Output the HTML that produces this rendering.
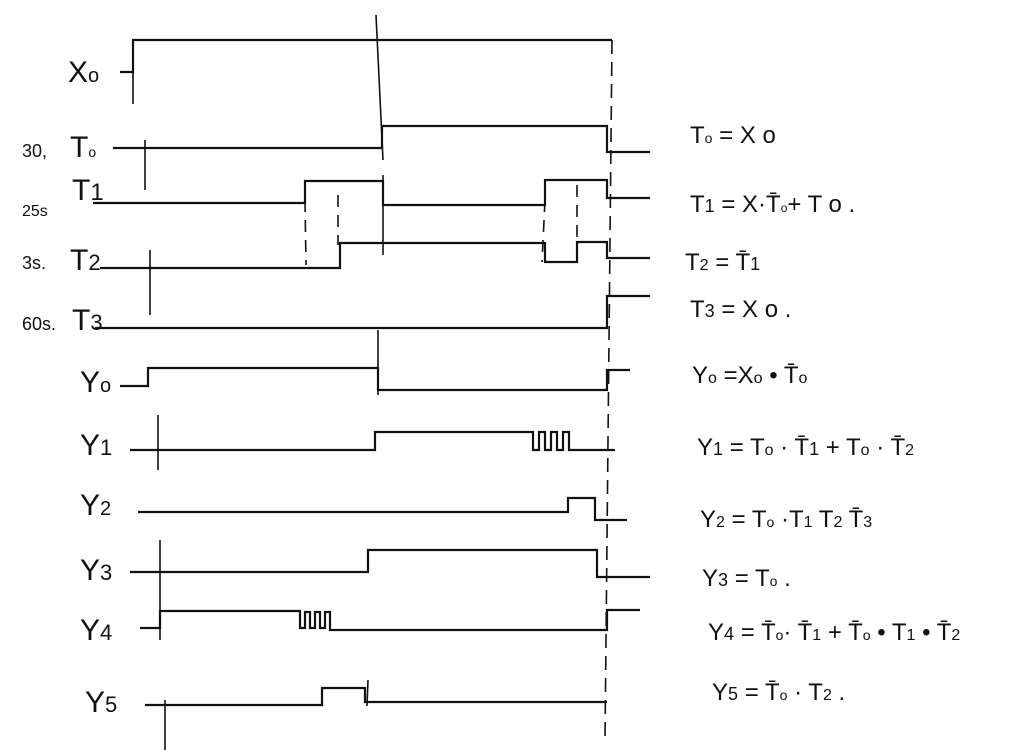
<!DOCTYPE html>
<html><head><meta charset="utf-8"><style>
body{margin:0;background:#fff}
svg{display:block}
text{font-family:"Liberation Sans",sans-serif;fill:#111}
</style></head><body>
<svg id="chart" width="1024" height="750" viewBox="0 0 1024 750">
<g id="guides" stroke="#111" stroke-width="1.6" fill="none">
<line x1="133" y1="40" x2="133" y2="104"/>
<line x1="376" y1="15" x2="383" y2="160"/>
<line x1="145" y1="140" x2="145" y2="190"/>
<line x1="150" y1="250" x2="150" y2="315"/>
<line x1="378" y1="330" x2="378" y2="395"/>
<line x1="158" y1="415" x2="158" y2="470"/>
<line x1="160" y1="540" x2="160" y2="640"/>
<line x1="165" y1="700" x2="165" y2="750"/>
<line x1="368" y1="680" x2="367" y2="706"/>
<line x1="612" y1="40" x2="605" y2="740" stroke-dasharray="14,8"/>
<line x1="305" y1="200" x2="306" y2="265" stroke-dasharray="12,8"/>
<line x1="338" y1="195" x2="338" y2="245" stroke-dasharray="12,8"/>
<line x1="545" y1="200" x2="542" y2="262" stroke-dasharray="12,8"/>
<line x1="577" y1="185" x2="577" y2="262" stroke-dasharray="12,8"/>
<line x1="383" y1="175" x2="383" y2="255"/>
</g>
<g id="waves" stroke="#111" stroke-width="2.2" fill="none"></g>
<g font-size="30">
<text x="68" y="82">X<tspan font-size="20">o</tspan></text>
<text x="22" y="157" font-size="18">30,</text>
<text x="70" y="157">T<tspan font-size="14">o</tspan></text>
<text x="22" y="216" font-size="16">25s</text>
<text x="72" y="200">T<tspan font-size="24">1</tspan></text>
<text x="22" y="269" font-size="18">3s.</text>
<text x="70" y="270">T<tspan font-size="22">2</tspan></text>
<text x="22" y="330" font-size="18">60s.</text>
<text x="72" y="330">T<tspan font-size="22">3</tspan></text>
<text x="80" y="392">Y<tspan font-size="20">o</tspan></text>
<text x="80" y="455">Y<tspan font-size="22">1</tspan></text>
<text x="80" y="515">Y<tspan font-size="20">2</tspan></text>
<text x="80" y="580">Y<tspan font-size="22">3</tspan></text>
<text x="80" y="640">Y<tspan font-size="22">4</tspan></text>
<text x="85" y="712">Y<tspan font-size="22">5</tspan></text>
</g>
<g font-size="24">
<text x="690" y="143">T<tspan font-size="14">o</tspan> = X o</text>
<text x="690" y="212">T<tspan font-size="18">1</tspan> = X·T̄<tspan font-size="12">o</tspan>+ T o .</text>
<text x="685" y="270">T<tspan font-size="16">2</tspan> = T̄<tspan font-size="18">1</tspan></text>
<text x="690" y="317">T<tspan font-size="18">3</tspan> = X o .</text>
<text x="692" y="383">Y<tspan font-size="16">o</tspan> =X<tspan font-size="16">o</tspan> • T̄<tspan font-size="16">o</tspan></text>
<text x="697" y="455">Y<tspan font-size="18">1</tspan> = T<tspan font-size="16">o</tspan> · T̄<tspan font-size="18">1</tspan> + T<tspan font-size="16">o</tspan> · T̄<tspan font-size="16">2</tspan></text>
<text x="700" y="527">Y<tspan font-size="16">2</tspan> = T<tspan font-size="14">o</tspan> ·T<tspan font-size="16">1</tspan> T<tspan font-size="16">2</tspan> T̄<tspan font-size="16">3</tspan></text>
<text x="702" y="586">Y<tspan font-size="18">3</tspan> = T<tspan font-size="14">o</tspan> .</text>
<text x="708" y="640">Y<tspan font-size="18">4</tspan> = T̄<tspan font-size="14">o</tspan>· T̄<tspan font-size="16">1</tspan> + T̄<tspan font-size="14">o</tspan> • T<tspan font-size="16">1</tspan> • T̄<tspan font-size="16">2</tspan></text>
<text x="712" y="700">Y<tspan font-size="18">5</tspan> = T̄<tspan font-size="14">o</tspan> · T<tspan font-size="16">2</tspan> .</text>
</g>
</svg>
<script>
// each waveform: names, and segments [xStart, xEnd, y]
const signalNames = ['x0','t0','t1','t2','t3','y0','y1','y2','y3','y4','y5'];
const x0Segs = [[120,133,72],[133,612,40]];
const t0Segs = [[113,382,148],[382,607,126],[607,650,152]];
const t1Segs = [[93,305,203],[305,383,181],[383,545,205],[545,607,180],[607,650,198]];
const t2Segs = [[100,340,268],[340,545,243],[545,577,262],[577,607,242],[607,650,258]];
const t3Segs = [[95,607,328],[607,650,296]];
const y0Segs = [[120,148,386],[148,378,368],[378,607,390],[607,630,370]];
const y1Segs = [[130,375,450],[375,533,432],[533,539,450],[539,545,432],[545,551,450],[551,557,432],[557,563,450],[563,569,432],[569,573,450],[573,615,450]];
const y2Segs = [[138,568,512],[568,595,498],[595,627,520]];
const y3Segs = [[130,368,572],[368,597,550],[597,650,577]];
const y4Segs = [[140,160,628],[160,300,611],[300,305,628],[305,310,612],[310,315,628],[315,320,612],[320,325,628],[325,330,612],[330,607,630],[607,640,610]];
const y5Segs = [[145,322,705],[322,365,688],[365,607,702]];
const allSegs = [x0Segs,t0Segs,t1Segs,t2Segs,t3Segs,y0Segs,y1Segs,y2Segs,y3Segs,y4Segs,y5Segs];
const g = document.getElementById('waves');
allSegs.forEach((segs,i)=>{
  let d='';
  segs.forEach((s,j)=>{
    if(j===0) d+='M'+s[0]+' '+s[2];
    else d+=' L'+s[0]+' '+s[2];
    d+=' L'+s[1]+' '+s[2];
  });
  const p=document.createElementNS('http://www.w3.org/2000/svg','path');
  p.setAttribute('d',d);
  
  
  g.appendChild(p);
});
</script>
</body></html>
